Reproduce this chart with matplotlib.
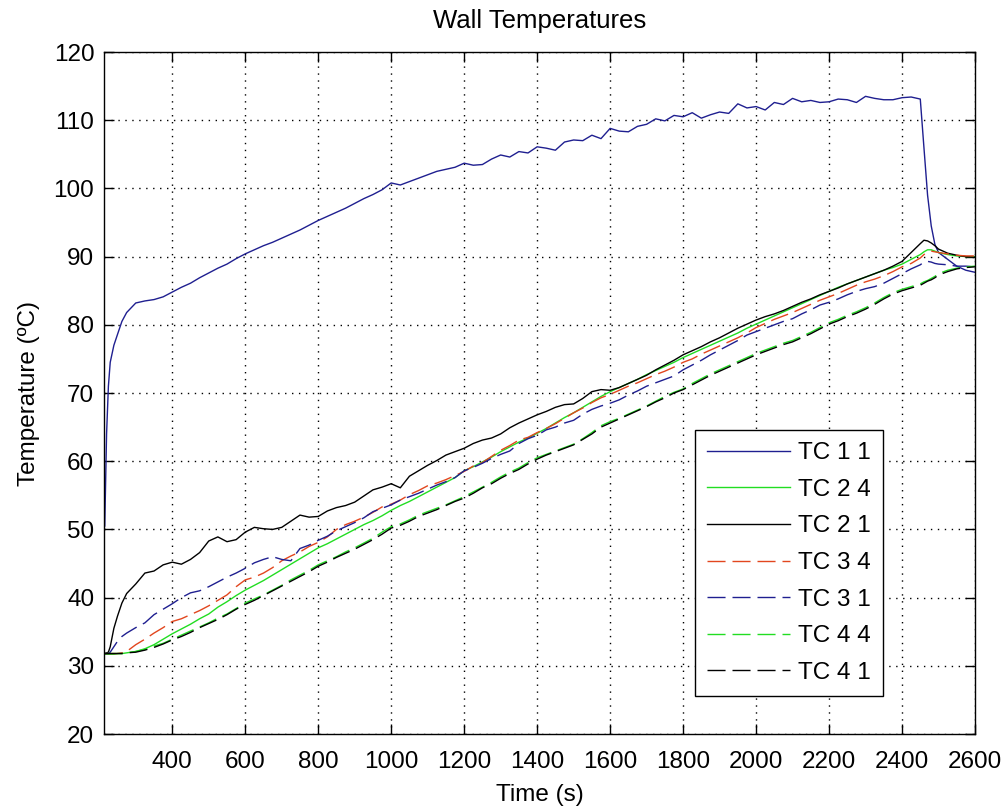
import numpy as np
import matplotlib
matplotlib.use("Agg")
import matplotlib.pyplot as plt

plt.rcParams['font.family'] = ['Liberation Sans', 'DejaVu Sans']

# time axis (s), shared by every thermocouple trace
time_s = [215, 220, 225, 230, 240, 250, 262, 275, 300, 325,
          350, 375, 400, 425, 450, 475, 500, 525, 550, 575,
          600, 625, 650, 675, 700, 725, 750, 775, 800, 825,
          850, 875, 900, 925, 950, 975, 1000, 1025, 1050, 1075,
          1100, 1125, 1150, 1175, 1200, 1225, 1250, 1275, 1300, 1325,
          1350, 1375, 1400, 1425, 1450, 1475, 1500, 1525, 1550, 1575,
          1600, 1625, 1650, 1675, 1700, 1725, 1750, 1775, 1800, 1825,
          1850, 1875, 1900, 1925, 1950, 1975, 2000, 2025, 2050, 2075,
          2100, 2125, 2150, 2175, 2200, 2225, 2250, 2275, 2300, 2325,
          2350, 2375, 2400, 2425, 2450, 2460, 2470, 2480, 2490, 2500,
          2525, 2550, 2575, 2600]

# temperatures (C)
tc_1_1 = [50.5, 64.0, 71.0, 74.5, 77.0, 78.6, 80.5, 81.8, 83.2, 83.5,
          83.7, 84.1, 84.8, 85.5, 86.1, 86.9, 87.6, 88.3, 88.9, 89.7,
          90.4, 91.0, 91.6, 92.1, 92.7, 93.3, 93.9, 94.6, 95.3, 95.9,
          96.5, 97.1, 97.8, 98.5, 99.1, 99.8, 100.8, 100.5, 101.0, 101.5,
          102.0, 102.5, 102.8, 103.1, 103.7, 103.4, 103.5, 104.3, 104.9, 104.6,
          105.4, 105.2, 106.1, 105.9, 105.6, 106.8, 107.1, 107.0, 107.8, 107.3,
          108.8, 108.4, 108.3, 109.1, 109.4, 110.2, 109.9, 110.7, 110.5, 111.1,
          110.3, 110.8, 111.2, 111.0, 112.4, 111.8, 112.0, 111.5, 112.6, 112.3,
          113.2, 112.7, 112.9, 112.6, 112.7, 113.1, 113.0, 112.6, 113.5, 113.2,
          113.0, 113.0, 113.3, 113.4, 113.1, 106.0, 99.0, 94.5, 91.8, 90.6,
          89.6, 88.6, 88.0, 87.7]

tc_2_4 = [31.7, 31.7, 31.7, 31.7, 31.7, 31.8, 31.8, 31.9, 32.1, 32.5,
          33.1, 33.9, 34.7, 35.4, 36.1, 36.9, 37.6, 38.6, 39.4, 40.3,
          41.1, 41.8, 42.5, 43.3, 44.1, 44.9, 45.7, 46.5, 47.3, 47.9,
          48.6, 49.3, 50.0, 50.7, 51.3, 52.0, 52.8, 53.5, 54.1, 54.8,
          55.5, 56.2, 56.9, 57.6, 58.6, 59.2, 59.9, 60.6, 61.4, 62.1,
          62.8, 63.4, 64.1, 64.8, 65.6, 66.4, 67.1, 67.9, 68.7, 69.5,
          70.2, 70.8, 71.4, 72.0, 72.7, 73.3, 73.9, 74.5, 75.2, 75.8,
          76.4, 77.0, 77.6, 78.2, 78.8, 79.5, 80.1, 80.7, 81.3, 81.9,
          82.5, 83.1, 83.7, 84.3, 84.9, 85.5, 86.0, 86.5, 87.0, 87.5,
          88.0, 88.4, 88.9, 89.6, 90.3, 90.7, 91.0, 91.0, 90.8, 90.6,
          90.3, 90.1, 90.0, 90.0]

tc_2_1 = [31.8, 31.9, 32.0, 32.8, 35.5, 37.3, 39.2, 40.6, 42.0, 43.6,
          43.9, 44.8, 45.2, 44.9, 45.6, 46.6, 48.3, 48.9, 48.2, 48.5,
          49.6, 50.3, 50.1, 50.0, 50.3, 51.2, 52.1, 51.8, 51.9, 52.7,
          53.2, 53.5, 54.0, 54.9, 55.8, 56.2, 56.7, 56.1, 57.8, 58.6,
          59.4, 60.1, 60.9, 61.4, 61.9, 62.6, 63.1, 63.4, 64.0, 64.9,
          65.6, 66.2, 66.8, 67.3, 67.9, 68.3, 68.4, 69.2, 70.2, 70.5,
          70.4, 70.8, 71.4, 72.0, 72.6, 73.4, 74.1, 74.8, 75.6, 76.2,
          76.8, 77.5, 78.1, 78.8, 79.5, 80.1, 80.7, 81.2, 81.6, 82.1,
          82.7, 83.3, 83.8, 84.4, 84.9, 85.4, 86.0, 86.5, 87.0, 87.5,
          88.0, 88.6, 89.3, 90.6, 91.9, 92.4, 92.3, 92.0, 91.6, 91.1,
          90.5, 90.2, 90.0, 89.9]

tc_3_4 = [31.8, 31.8, 31.8, 31.8, 31.8, 31.8, 31.9, 32.1, 33.1, 33.9,
          34.8, 35.6, 36.5, 36.9, 37.5, 38.1, 38.8, 39.6, 40.4, 41.6,
          42.6, 43.0, 43.6, 44.4, 45.4, 46.1, 46.7, 47.5, 48.1, 48.9,
          50.0, 50.7, 51.2, 51.8, 52.5, 53.3, 53.7, 54.3, 55.1, 55.7,
          56.4, 56.8, 57.3, 57.9, 58.5, 59.3, 59.8, 60.7, 61.6, 62.3,
          63.1, 63.5, 64.2, 64.8, 65.5, 66.3, 67.1, 67.8, 68.6, 69.3,
          69.8, 70.4, 71.0, 71.5, 72.1, 72.7, 73.2, 73.8, 74.5, 75.0,
          75.7, 76.3, 76.9, 77.5, 78.1, 78.8, 79.6, 80.2, 80.8, 81.3,
          81.8, 82.4, 83.0, 83.6, 84.1, 84.6, 85.2, 85.8, 86.3, 86.7,
          87.2, 87.8, 88.5, 89.0, 89.8, 90.3, 90.6, 90.8, 90.7, 90.6,
          90.4, 90.2, 90.1, 90.1]

tc_3_1 = [31.8, 31.8, 31.8, 32.0, 32.8, 33.6, 34.3, 34.8, 35.6, 36.3,
          37.5, 38.3, 39.1, 40.0, 40.7, 41.0, 41.6, 42.3, 43.0, 43.6,
          44.3, 45.1, 45.6, 46.0, 45.6, 45.4, 47.2, 47.7, 48.4, 49.0,
          49.8, 50.4, 51.0, 51.7, 52.6, 53.1, 53.6, 54.3, 54.8, 55.3,
          55.9, 56.5, 57.0, 57.6, 58.6, 59.1, 59.7, 60.4, 61.0, 61.5,
          62.6, 63.3, 63.8, 64.6, 65.0, 65.6, 66.0, 66.9, 67.6, 68.1,
          68.5, 69.0, 69.7, 70.3, 71.0, 71.5, 72.0, 72.5, 73.4, 74.1,
          74.8, 75.6, 76.3, 77.0, 77.7, 78.5, 79.0, 79.5, 80.0, 80.5,
          80.9, 81.6, 82.2, 82.9, 83.3, 83.8, 84.4, 84.9, 85.3, 85.6,
          86.1, 86.8, 87.5, 88.2, 88.8, 89.2, 89.3, 89.2, 89.0, 88.9,
          88.8, 88.6, 88.6, 88.5]

tc_4_4 = [31.8, 31.8, 31.8, 31.8, 31.8, 31.8, 31.8, 31.9, 32.1, 32.4,
          32.9, 33.3, 33.9, 34.5, 35.1, 35.7, 36.3, 37.0, 37.6, 38.4,
          39.2, 39.8, 40.4, 41.1, 41.8, 42.6, 43.3, 44.0, 44.8, 45.4,
          46.0, 46.7, 47.3, 48.0, 48.7, 49.6, 50.4, 50.8, 51.4, 52.1,
          52.6, 53.1, 53.6, 54.2, 54.8, 55.5, 56.2, 56.9, 57.7, 58.4,
          59.0, 59.8, 60.5, 61.0, 61.5, 62.0, 62.5, 63.3, 64.2, 65.2,
          65.8, 66.3, 66.9, 67.5, 68.1, 68.8, 69.5, 70.1, 70.6, 71.4,
          72.1, 72.8, 73.4, 74.0, 74.6, 75.2, 75.8, 76.3, 76.8, 77.3,
          77.7, 78.3, 78.9, 79.6, 80.3, 80.8, 81.4, 81.9, 82.5, 83.2,
          84.0, 84.7, 85.2, 85.6, 86.0, 86.3, 86.5, 86.8, 87.1, 87.5,
          88.0, 88.3, 88.5, 88.6]

tc_4_1 = [31.8, 31.8, 31.8, 31.8, 31.8, 31.8, 31.8, 31.9, 32.0, 32.3,
          32.7, 33.2, 33.8, 34.3, 34.9, 35.6, 36.2, 36.8, 37.5, 38.3,
          39.0, 39.6, 40.3, 41.0, 41.7, 42.4, 43.1, 43.8, 44.6, 45.2,
          45.9, 46.5, 47.1, 47.8, 48.5, 49.3, 50.2, 50.6, 51.2, 51.9,
          52.4, 52.9, 53.5, 54.1, 54.6, 55.3, 56.1, 56.7, 57.5, 58.2,
          58.8, 59.6, 60.3, 60.9, 61.4, 61.9, 62.4, 63.2, 64.0, 65.0,
          65.6, 66.2, 66.8, 67.4, 68.0, 68.7, 69.3, 70.0, 70.5, 71.2,
          71.9, 72.6, 73.2, 73.8, 74.4, 75.0, 75.6, 76.1, 76.6, 77.1,
          77.5, 78.1, 78.7, 79.4, 80.1, 80.6, 81.2, 81.7, 82.3, 83.0,
          83.8, 84.5, 85.0, 85.4, 85.8, 86.1, 86.4, 86.6, 86.9, 87.3,
          87.8, 88.2, 88.4, 88.5]

labels = ['TC 1 1', 'TC 2 4', 'TC 2 1', 'TC 3 4', 'TC 3 1', 'TC 4 4', 'TC 4 1']
series = [tc_1_1, tc_2_4, tc_2_1, tc_3_4, tc_3_1, tc_4_4, tc_4_1]

navy = '#1f1f90'
lime = '#22dd22'
red = '#e2461e'
colors = [navy, lime, 'black', red, navy, lime, 'black']
styles = ['-', '-', '-', '--', '--', '--', '--']

fig = plt.figure(figsize=(10.06, 8.10), dpi=100)
ax = fig.add_axes([0.1034, 0.0938, 0.8658, 0.842])

for vals, lab, col, ls in zip(series, labels, colors, styles):
    line, = ax.plot(time_s, vals, color=col, linestyle=ls, linewidth=1.0, label=lab)
    if ls == '--':
        line.set_dashes((13, 5))

ax.set_xlim(213, 2600)
ax.set_ylim(20, 120)
ax.set_xticks(np.arange(400, 2601, 200))
ax.set_yticks(np.arange(20, 121, 10))

ax.grid(True, color='black', linestyle=(0, (1, 4)), linewidth=1.0)
ax.tick_params(direction='in', length=7, width=1, top=True, right=True,
               labelsize=17.5, pad=7)
ax.tick_params(axis='x', pad=12)
for sp in ax.spines.values():
    sp.set_linewidth(1.0)

ax.set_title('Wall Temperatures', fontsize=18.5, pad=17)
ax.set_xlabel('Time (s)', fontsize=17.5, labelpad=8)
ax.set_ylabel('Temperature (ºC)', fontsize=17.5, labelpad=10)

leg = ax.legend(loc='lower left', bbox_to_anchor=(0.6785, 0.0557), borderaxespad=0,
                fontsize=17.5, handlelength=3.4, labelspacing=0.6, handletextpad=0.33,
                fancybox=False, framealpha=1, edgecolor='black', borderpad=0.5)
leg.get_frame().set_linewidth(1.0)

fig.savefig('out.png', dpi=100, facecolor='white')
